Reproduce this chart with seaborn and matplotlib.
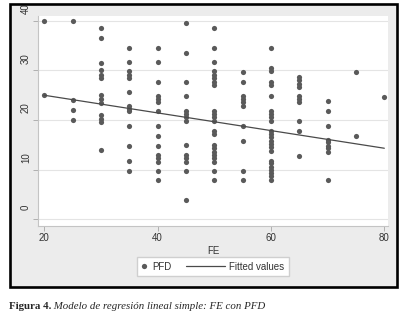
import matplotlib
matplotlib.use("Agg")
import matplotlib.pyplot as plt
import seaborn as sns
import pandas as pd
from matplotlib.patches import Rectangle
from matplotlib.lines import Line2D
from matplotlib.legend_handler import HandlerLine2D
from matplotlib.transforms import ScaledTranslation

# FE values and the PFD values, one list per FE column
fe_levels = [20, 25, 30, 35, 40, 45, 50, 55, 60, 65, 70, 75, 80]
pfd_by_fe = [
    [40, 25],
    [40, 24, 22, 20],
    [38.5, 36.5, 31.5, 30, 29, 28.5, 25, 24.3, 23.5, 21, 20.3, 19.6, 14],
    [34.5, 31.7, 29.8, 29.1, 28.5, 25.7, 22.9, 22.3, 21.8, 18.8, 14.8, 11.8, 9.8],
    [34.5, 31.7, 27.7, 24.8, 24.3, 23.7, 21.8, 18.8, 16.8, 14.8, 12.9, 12.3, 11.6, 9.8, 7.8],
    [39.6, 33.6, 27.7, 24.8, 21.9, 21.3, 20.6, 19.8, 14.9, 12.9, 12.3, 11.6, 9.8, 3.8],
    [38.5, 34.5, 31.7, 29.8, 29.1, 28.5, 27.7, 27, 21.9, 21.3, 20.6, 19.8, 17.8, 17.1,
     14.9, 14.3, 13.6, 12.9, 12.3, 11.6, 9.8, 7.8],
    [29.7, 27.7, 24.8, 24.3, 23.6, 22.9, 18.8, 15.8, 9.8, 7.8],
    [34.5, 30.6, 29.9, 27.7, 27, 24.8, 21.8, 21.3, 20.6, 19.9, 17.8, 17.1, 16.5, 15.8,
     15.1, 14.5, 13.8, 11.8, 11.3, 10.6, 9.9, 9.3, 8.6, 7.8],
    [28.7, 28, 27.3, 26.7, 24.8, 24.3, 23.6, 19.8, 17.8, 12.8],
    [23.8, 21.8, 18.8, 16, 15.5, 14.8, 14.3, 13.6, 7.8],
    [29.7, 16.8],
    [24.7],
]
# fitted values line, read at both ends
fit_fe = [20, 80]
fit_pfd = [25.0, 14.3]
x_ticks = [20, 40, 60, 80]
y_ticks = [0, 10, 20, 30, 40]

rows = [(fe, v) for fe, vals in zip(fe_levels, pfd_by_fe) for v in vals]
df = pd.DataFrame(rows, columns=["FE", "PFD"])
fit = pd.DataFrame({"FE": fit_fe, "PFD": fit_pfd})

sns.set_style("white")
plt.rcParams["font.family"] = ["Liberation Sans", "DejaVu Sans"]

dot_color = "#5a5a5a"
line_color = "#4a4a4a"

fig = plt.figure(figsize=(4.05, 3.18), dpi=100)
fig.patch.set_facecolor("white")
# grey graph region with black frame
fig.patches.append(Rectangle((10 / 405, 31 / 318), 387 / 405, 283 / 318,
                             transform=fig.transFigure, facecolor="#ececec",
                             edgecolor="none", zorder=-1))
fig.add_artist(Rectangle((10 / 405, 31 / 318), 387 / 405, 283 / 318,
                         transform=fig.transFigure, fill=False,
                         edgecolor="black", linewidth=1.9, zorder=10))

ax = fig.add_axes([38 / 405, 92 / 318, 350 / 405, 210 / 318])
ax.set_facecolor("white")
sns.scatterplot(data=df, x="FE", y="PFD", ax=ax, s=14, color=dot_color,
                linewidth=0, legend=False)
sns.lineplot(data=fit, x="FE", y="PFD", ax=ax, color=line_color, lw=0.9,
             legend=False)

ax.set_xlim(18.9, 80.65)
ax.set_ylim(-1.4, 41.0)
ax.set_xticks(x_ticks)
ax.set_yticks(y_ticks)
ax.yaxis.grid(True, color="#e4e4e4", lw=0.8)
ax.xaxis.grid(False)
ax.set_axisbelow(True)
for side in ["top", "right"]:
    ax.spines[side].set_visible(False)
for side in ["left", "bottom"]:
    ax.spines[side].set_color("#c4c4c4")
    ax.spines[side].set_linewidth(0.8)
ax.tick_params(axis="both", length=3.6, width=0.7, color="#b0b0b0",
               labelsize=7, labelcolor="#333333", pad=1.5, direction="out",
               bottom=True, left=True)
ax.set_xlabel("FE", fontsize=7, color="#333333", labelpad=2)
ax.set_ylabel("")
for lab in ax.get_yticklabels():
    lab.set_rotation(90)
    lab.set_va("center")
    lab.set_transform(lab.get_transform() + ScaledTranslation(0, 0.12, fig.dpi_scale_trans))


class WideLine(HandlerLine2D):
    def create_artists(self, legend, orig_handle, xdescent, ydescent, width,
                       height, fontsize, trans):
        extra = 23.3
        return super().create_artists(legend, orig_handle, xdescent + extra,
                                      ydescent, width + extra, height,
                                      fontsize, trans)


h_dot = Line2D([], [], marker="o", ls="none", color=dot_color, markersize=3.8,
               markeredgewidth=0)
h_line = Line2D([], [], color=line_color, lw=0.9)
fig.legend([h_dot, h_line], ["PFD", "Fitted values"], loc="center",
           bbox_to_anchor=(213 / 405, (318 - 266.5) / 318), ncol=2,
           fontsize=7, frameon=True, fancybox=False, edgecolor="#cfcfcf",
           facecolor="white", framealpha=1, borderpad=0.5, handlelength=0.6,
           handletextpad=0.5, columnspacing=4.87, labelcolor="#333333",
           handler_map={h_line: WideLine()})

# caption below the graph
t1 = fig.text(9 / 405, (318 - 309) / 318, "Figura 4.", fontsize=7.8,
              fontweight="bold", family="Liberation Serif", va="baseline")
ax.annotate(" Modelo de regresión lineal simple: FE con PFD", xy=(1, 0),
            xycoords=t1, va="bottom", ha="left", fontsize=7.8,
            fontstyle="italic", family="Liberation Serif", annotation_clip=False)

fig.savefig("out.png", dpi=100)
plt.close(fig)
